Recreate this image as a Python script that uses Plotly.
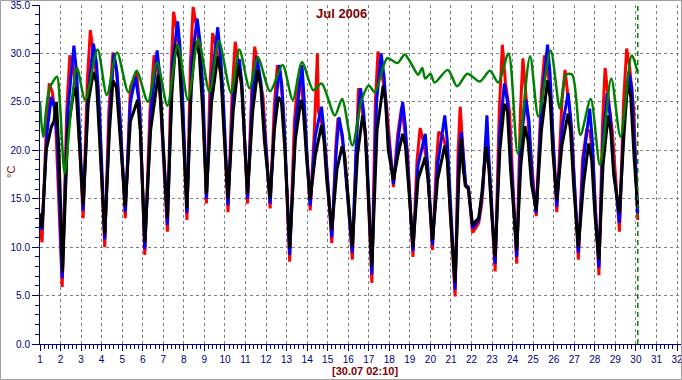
import plotly.graph_objects as go

# ---------------- data ----------------
title_text = "Jul 2006"
now_label = "[30.07 02:10]"
now_time = 30.09
y_unit = "°C"
day_ticks = list(range(1, 33))
temp_ticks = [0, 5, 10, 15, 20, 25, 30, 35]

red_time = [1.00, 1.10, 1.30, 1.45, 1.60, 1.75, 2.08, 2.30, 2.45, 2.62, 2.80, 3.10, 3.30, 3.45, 3.60, 3.80,
            4.15, 4.35, 4.55, 4.70, 4.85, 5.15, 5.40, 5.70, 5.85, 6.10, 6.35, 6.55, 6.70, 6.85,
            7.20, 7.38, 7.50, 7.65, 7.85, 8.15, 8.32, 8.45, 8.60, 8.85, 9.10, 9.28, 9.40, 9.60, 9.85,
            10.15, 10.35, 10.50, 10.65, 10.85, 11.10, 11.30, 11.45, 11.60, 11.85, 12.20, 12.40, 12.55, 12.70, 12.85,
            13.15, 13.38, 13.55, 13.70, 13.88, 14.15, 14.35, 14.50, 14.55, 14.75, 14.90,
            15.20, 15.40, 15.50, 15.65, 15.85, 16.20, 16.40, 16.50, 16.65, 16.85,
            17.15, 17.32, 17.45, 17.60, 17.85, 18.20, 18.40, 18.60, 18.72, 18.88,
            19.15, 19.35, 19.50, 19.65, 19.85, 20.10, 20.30, 20.40, 20.60, 20.80,
            21.20, 21.35, 21.45, 21.55, 21.70, 21.85, 22.05, 22.15, 22.35, 22.50, 22.70, 22.85,
            23.15, 23.35, 23.50, 23.65, 23.85, 24.20, 24.38, 24.50, 24.65, 24.85,
            25.15, 25.40, 25.55, 25.70, 25.85, 26.15, 26.40, 26.55, 26.70, 26.88,
            27.20, 27.40, 27.60, 27.75, 27.90, 28.20, 28.38, 28.50, 28.65, 28.85,
            29.20, 29.40, 29.55, 29.70, 29.90, 30.09]
red_temp = [12.0, 10.5, 22.0, 26.9, 26.0, 23.5, 5.9, 24.0, 29.8, 28.5, 26.0, 13.0, 27.0, 32.4, 30.0, 27.0,
            10.0, 24.0, 30.1, 28.5, 25.0, 13.0, 26.5, 28.1, 24.5, 9.2, 24.0, 29.8, 29.0, 25.5,
            11.6, 28.0, 34.3, 32.5, 29.0, 12.8, 29.0, 34.8, 33.0, 29.5, 14.5, 27.0, 32.1, 30.5, 27.0,
            13.6, 26.0, 31.2, 29.0, 26.0, 14.5, 26.0, 30.7, 28.5, 25.5, 14.0, 24.5, 28.8, 27.5, 24.0,
            8.5, 23.0, 27.2, 27.0, 23.5, 13.8, 22.0, 30.0, 24.0, 22.5, 20.0,
            10.4, 20.5, 23.3, 22.0, 19.0, 8.7, 22.0, 26.4, 24.5, 21.5,
            6.3, 25.0, 30.2, 28.5, 25.0, 16.2, 21.5, 24.5, 22.5, 20.0,
            9.0, 19.0, 22.3, 21.0, 18.5, 9.7, 19.0, 21.9, 21.5, 20.0,
            4.9, 20.0, 24.5, 21.0, 16.3, 16.0, 11.5, 11.8, 12.5, 14.5, 20.4, 18.5,
            7.5, 24.0, 30.9, 27.0, 24.0, 8.3, 24.0, 29.5, 26.0, 20.5,
            13.2, 26.0, 29.8, 28.5, 25.5, 13.6, 25.0, 28.3, 25.5, 22.0,
            8.7, 19.0, 22.1, 22.0, 19.5, 7.1, 23.0, 28.5, 25.5, 22.0,
            11.6, 25.0, 30.5, 28.5, 24.0, 12.8]

blue_time = [1.00, 1.10, 1.35, 1.55, 1.70, 1.85, 2.08, 2.35, 2.65, 2.78, 2.90, 3.10, 3.35, 3.60, 3.75, 3.90,
             4.15, 4.40, 4.60, 4.75, 4.90, 5.15, 5.40, 5.65, 5.85, 6.10, 6.40, 6.70, 6.82, 6.95,
             7.20, 7.45, 7.70, 7.82, 7.95, 8.15, 8.40, 8.65, 8.80, 8.95, 9.10, 9.35, 9.65, 9.80, 9.95,
             10.15, 10.40, 10.70, 10.82, 10.95, 11.10, 11.35, 11.55, 11.75, 11.92, 12.20, 12.45, 12.65, 12.78, 12.92,
             13.15, 13.45, 13.75, 13.85, 13.98, 14.15, 14.40, 14.70, 14.82, 14.95,
             15.20, 15.42, 15.55, 15.72, 15.90, 16.20, 16.42, 16.60, 16.75, 16.92,
             17.15, 17.38, 17.60, 17.75, 17.92, 18.20, 18.45, 18.65, 18.78, 18.95,
             19.15, 19.40, 19.75, 19.88, 20.10, 20.35, 20.70, 20.82, 20.98,
             21.20, 21.38, 21.50, 21.62, 21.72, 21.85, 22.05, 22.15, 22.35, 22.55, 22.75, 22.85, 22.98,
             23.15, 23.38, 23.60, 23.75, 23.92, 24.20, 24.40, 24.65, 24.80, 24.95,
             25.15, 25.42, 25.70, 25.82, 25.95, 26.15, 26.42, 26.70, 26.82, 26.98,
             27.20, 27.45, 27.75, 27.88, 28.02, 28.20, 28.40, 28.60, 28.75, 28.92,
             29.20, 29.42, 29.65, 29.80, 29.95, 30.09]
blue_temp = [12.5, 11.8, 22.0, 25.5, 24.5, 21.0, 6.8, 24.0, 30.8, 28.0, 23.0, 13.8, 26.0, 31.0, 29.0, 24.0,
             10.8, 24.0, 30.0, 28.0, 23.0, 13.6, 25.0, 27.6, 24.5, 9.8, 24.0, 30.3, 28.0, 22.0,
             12.3, 29.0, 33.3, 30.5, 25.0, 13.5, 29.5, 33.6, 31.0, 25.0, 15.0, 27.0, 32.7, 29.5, 24.0,
             14.3, 25.5, 29.4, 27.0, 22.0, 15.0, 26.0, 29.7, 27.0, 22.0, 14.5, 24.0, 28.8, 26.5, 21.0,
             9.2, 23.0, 28.8, 25.5, 20.0, 14.3, 21.5, 24.5, 22.0, 18.0,
             11.0, 20.0, 23.4, 21.5, 17.0, 9.4, 22.0, 26.4, 24.0, 19.0,
             7.2, 25.0, 30.0, 27.5, 22.0, 16.5, 21.5, 25.0, 22.5, 17.0,
             9.6, 18.5, 21.7, 18.0, 10.2, 18.5, 23.6, 21.0, 14.0,
             5.6, 19.0, 21.9, 19.0, 16.4, 16.2, 12.0, 12.2, 12.8, 16.0, 23.6, 19.0, 14.0,
             8.3, 22.0, 26.9, 25.0, 19.0, 9.0, 21.0, 25.2, 23.0, 17.0,
             13.5, 25.0, 30.9, 28.0, 22.0, 14.2, 22.5, 25.9, 23.5, 17.0,
             9.4, 19.0, 24.3, 21.0, 14.0, 7.9, 21.0, 25.9, 23.5, 18.0,
             12.5, 23.0, 28.1, 26.5, 20.0, 13.5]

black_time = [1.00, 1.10, 1.30, 1.55, 1.68, 1.80, 1.92, 2.10, 2.35, 2.60, 2.75, 2.88, 3.10, 3.35, 3.60, 3.75, 3.90,
              4.15, 4.38, 4.55, 4.72, 4.90, 5.15, 5.40, 5.75, 5.88, 6.10, 6.38, 6.75, 6.88,
              7.20, 7.42, 7.60, 7.78, 7.92, 8.15, 8.35, 8.55, 8.75, 8.92, 9.10, 9.35, 9.65, 9.80, 9.95,
              10.15, 10.40, 10.65, 10.80, 10.95, 11.10, 11.35, 11.60, 11.75, 11.92, 12.20, 12.40, 12.60, 12.75, 12.92,
              13.15, 13.42, 13.70, 13.82, 13.98, 14.15, 14.40, 14.70, 14.82, 14.95,
              15.20, 15.45, 15.70, 15.82, 15.95, 16.20, 16.45, 16.70, 16.82, 16.95,
              17.15, 17.40, 17.70, 17.82, 17.95, 18.20, 18.42, 18.65, 18.78, 18.95,
              19.15, 19.40, 19.75, 19.88, 20.10, 20.35, 20.70, 20.82, 20.98,
              21.20, 21.38, 21.50, 21.60, 21.70, 21.85, 22.05, 22.15, 22.35, 22.50, 22.70, 22.85, 22.98,
              23.15, 23.38, 23.60, 23.75, 23.90, 24.20, 24.40, 24.60, 24.75, 24.92,
              25.15, 25.40, 25.70, 25.82, 25.95, 26.15, 26.40, 26.70, 26.82, 26.98,
              27.20, 27.45, 27.70, 27.85, 28.00, 28.20, 28.40, 28.65, 28.78, 28.92,
              29.20, 29.40, 29.60, 29.75, 29.92, 30.09]
black_temp = [13.5, 12.0, 20.0, 22.4, 23.0, 25.0, 20.0, 7.5, 22.0, 25.5, 26.5, 22.0, 14.3, 25.0, 28.1, 27.0, 21.0,
              11.3, 22.0, 27.2, 26.5, 21.0, 14.2, 23.0, 25.2, 22.0, 10.5, 22.0, 27.8, 25.0,
              13.0, 26.0, 30.9, 29.5, 24.0, 14.0, 26.0, 31.2, 30.0, 24.0, 15.5, 25.0, 29.7, 28.0, 22.0,
              15.0, 24.0, 28.8, 27.0, 21.0, 15.5, 24.0, 28.3, 26.5, 21.0, 15.0, 22.0, 25.5, 25.0, 20.0,
              9.9, 21.0, 25.2, 24.0, 19.0, 14.9, 19.5, 22.6, 21.0, 17.0,
              11.8, 18.0, 20.4, 19.5, 16.0, 10.0, 19.5, 23.6, 22.0, 17.0,
              8.0, 22.0, 26.7, 25.0, 20.0, 16.9, 19.5, 21.7, 20.5, 16.0,
              10.0, 17.0, 19.3, 17.0, 10.7, 17.0, 20.5, 19.0, 13.0,
              6.3, 17.0, 21.2, 18.0, 16.4, 16.0, 12.3, 12.5, 13.0, 15.5, 20.4, 18.0, 13.5,
              9.0, 20.0, 24.8, 24.0, 18.0, 9.7, 18.5, 22.5, 21.0, 16.5,
              13.8, 22.0, 27.2, 25.5, 20.0, 14.9, 20.5, 23.8, 22.0, 16.0,
              10.0, 16.5, 20.7, 19.0, 13.5, 8.7, 18.5, 23.6, 22.0, 17.5,
              13.5, 21.0, 27.1, 25.5, 19.0, 14.0]

green_time = [1.00, 1.15, 1.45, 1.83, 1.95, 2.20, 2.50, 2.80, 3.20, 3.80, 4.25, 4.75, 5.30, 5.70, 6.25, 6.70,
              7.20, 7.70, 8.20, 8.70, 9.25, 9.70, 10.30, 10.70, 11.20, 11.60, 12.20, 12.80, 13.30, 13.75,
              14.30, 14.70, 15.35, 15.70, 16.20, 16.65, 17.00, 17.30, 17.90, 18.40, 18.75, 19.10, 19.40,
              19.60, 19.75, 20.00, 20.20, 20.85, 21.30, 21.80, 22.40, 22.90, 23.30, 23.80, 24.25, 24.85,
              25.25, 25.85, 26.30, 26.60, 26.90, 27.30, 27.80, 28.25, 28.80, 29.25, 29.80, 30.09]
green_temp = [25.0, 21.4, 26.3, 27.6, 25.5, 17.6, 24.0, 28.5, 25.2, 30.4, 25.7, 30.1, 26.0, 28.2, 25.0, 29.1,
              24.6, 30.9, 25.2, 31.5, 26.0, 31.3, 25.9, 30.4, 26.4, 29.6, 26.1, 28.8, 25.2, 29.1,
              26.2, 26.9, 23.6, 25.3, 20.5, 25.2, 26.7, 26.0, 29.5, 29.0, 29.9, 28.8, 27.8,
              28.5, 27.4, 27.9, 27.0, 28.3, 26.6, 27.9, 27.1, 28.2, 27.0, 30.0, 19.7, 29.7,
              23.5, 30.3, 24.3, 27.8, 27.8, 21.6, 25.3, 18.5, 27.4, 21.4, 29.8, 28.0]

# ---------------- figure ----------------
W, H = 682, 380
ML, MR, MT, MB = 40, 0, 5, 36
plot_w = W - ML - MR
plot_h = H - MT - MB
x_max = 1 + 31 * plot_w / 637.0  # day 32 sits at ~677 px

NAVY = "#000080"
MAROON = "#800000"
GRID = "#808080"
FONT = "Liberation Sans, Arial, sans-serif"


def px_x(px):
    return (px - ML) / plot_w


def px_y(py):
    return (H - MB - py) / plot_h


fig = go.Figure()
series = [
    (red_time, red_temp, "#ff0000", 3, "linear"),
    (blue_time, blue_temp, "#0000ff", 3, "linear"),
    (black_time, black_temp, "#000000", 3, "linear"),
    (green_time, green_temp, "#008000", 2.5, "spline"),
]
for t, v, c, w, shp in series:
    fig.add_trace(go.Scatter(x=t, y=v, mode="lines",
                             line=dict(color=c, width=w, shape=shp, smoothing=0.8),
                             hoverinfo="skip", showlegend=False))

fig.add_vline(x=now_time, line=dict(color="#008000", width=1.5, dash="5px,4px"))

axis_font = dict(family=FONT, size=10, color=NAVY)
fig.update_xaxes(
    range=[1, x_max], tickvals=day_ticks, ticktext=[str(d) for d in day_ticks],
    showgrid=True, gridcolor=GRID, griddash="3px,3px", gridwidth=1,
    showline=True, linecolor=NAVY, linewidth=1,
    ticks="outside", ticklen=6, tickcolor=NAVY, tickwidth=1,
    minor=dict(dtick=0.2, ticks="outside", ticklen=4, tickcolor=NAVY, showgrid=False),
    tickfont=axis_font, zeroline=False, fixedrange=True, automargin=False,
    ticklabeloverflow="allow",
)
fig.update_yaxes(
    range=[0, 35], tickvals=temp_ticks, ticktext=[f"{v:.1f}" for v in temp_ticks],
    showgrid=True, gridcolor=GRID, griddash="3px,3px", gridwidth=1,
    showline=True, linecolor=NAVY, linewidth=1,
    ticks="outside", ticklen=7, tickcolor=NAVY, tickwidth=1,
    minor=dict(dtick=1, ticks="outside", ticklen=4, tickcolor=NAVY, showgrid=False),
    tickfont=axis_font, zeroline=False, fixedrange=True, automargin=False,
    ticklabeloverflow="allow",
)

# border around the whole picture
fig.add_shape(type="rect", xref="paper", yref="paper",
              x0=px_x(0.5), x1=px_x(W - 0.5), y0=px_y(H - 0.5), y1=px_y(0.5),
              line=dict(color="#a0a0a0", width=1), layer="above")

fig.add_annotation(text=f"<b>{title_text}</b>", xref="paper", yref="paper",
                   x=px_x(W / 2), y=px_y(13), showarrow=False,
                   font=dict(family=FONT, size=13, color=MAROON),
                   xanchor="center", yanchor="middle")
fig.add_annotation(text=f"<b>{now_label}</b>", xref="paper", yref="paper",
                   x=px_x(365), y=px_y(371), showarrow=False,
                   font=dict(family=FONT, size=11, color=MAROON),
                   xanchor="center", yanchor="middle")
fig.add_annotation(text=y_unit, xref="paper", yref="paper",
                   x=px_x(11), y=px_y(172), showarrow=False, textangle=-90,
                   font=dict(family=FONT, size=11, color=MAROON),
                   xanchor="center", yanchor="middle")

fig.update_layout(
    width=W, height=H, autosize=False,
    margin=dict(l=ML, r=MR, t=MT, b=MB, pad=0),
    paper_bgcolor="white", plot_bgcolor="white",
    showlegend=False,
)

fig.write_html("out.html", config={"displayModeBar": False, "staticPlot": True},
               post_script="document.body.style.margin='0';document.body.style.padding='0';"
                           "document.documentElement.style.overflow='hidden';")
